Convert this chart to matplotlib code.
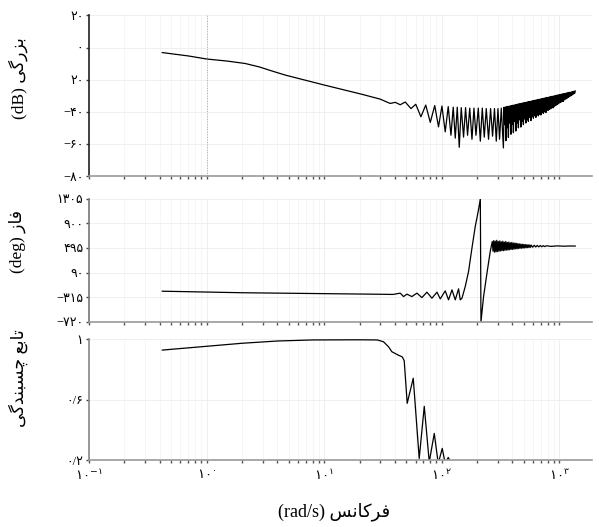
import matplotlib
matplotlib.use("Agg")
import matplotlib.pyplot as plt
from matplotlib.ticker import FixedLocator, LogLocator, NullFormatter

plt.rcParams['font.family'] = ['Liberation Serif', 'DejaVu Sans']
plt.rcParams['mathtext.fontset'] = 'dejavusans'

# --- magnitude (dB) ---
mag_freq = [0.42, 0.7, 1.0, 1.5, 2.13, 2.8, 3.5, 4.66, 10, 21, 30.0, 36.5, 40.3, 44.4, 49.0,
            54.8, 60.2, 66.6, 73.2, 80.0, 87.3, 94.0, 100.5, 107.2, 113.7, 119.9, 125.4,
            130.5, 135.7, 141.1, 146.7, 153.5, 159.7, 166.0, 173.3, 181.0, 188.2, 195.7,
            204.8, 213.2, 221.5, 230.3, 239.5, 250.5, 260.6, 271.0, 281.3, 291.4, 301.2,
            310.8, 321.4,
            335.0, 339.1, 343.3, 347.5, 351.8, 356.1, 360.5, 365.0, 369.5, 374.0, 378.6,
            383.3, 388.0, 392.8, 397.6, 402.5, 407.5, 412.5, 417.6, 422.7, 427.9, 433.2,
            438.5, 443.9, 449.4, 454.9, 460.5, 466.2, 471.9, 477.7, 483.6, 489.6, 495.6,
            501.7, 507.9, 514.2, 520.5, 526.9, 533.4, 540.0, 546.6, 553.4, 560.2, 567.1,
            574.1, 581.1, 588.3, 595.5, 602.9, 610.3, 617.8, 625.4, 633.1, 640.9, 648.8,
            656.8, 664.9, 673.1, 681.4, 689.8, 698.3, 706.9, 715.6, 724.4, 733.3, 742.3,
            751.5, 760.7, 770.1, 779.6, 789.2, 798.9, 808.7, 818.7, 828.8, 839.0, 849.3,
            859.8, 870.4, 881.1, 892.0, 902.9, 914.1, 925.3, 936.7, 948.2, 959.9, 971.7,
            983.7, 995.8, 1008.1, 1020.5, 1033.1, 1045.8, 1058.7, 1071.7, 1084.9, 1098.3,
            1111.8, 1125.5, 1139.4, 1153.4, 1167.6, 1182.0, 1196.6, 1211.3, 1226.2, 1241.3,
            1256.6, 1272.1, 1287.8, 1303.6, 1319.7, 1335.9, 1352.4, 1369.0]
mag_db = [-3.1, -5.2, -7.1, -8.4, -9.9, -12.0, -14.3, -17.1, -23.3, -29.1, -32.1, -34.8,
          -34.1, -35.6, -33.9, -38.0, -35.3, -43.1, -35.8, -46.6, -36.1, -49.4, -36.4,
          -52.5, -36.75, -54.6, -37.1, -56.4, -37.1, -62.1, -37.4, -55.8, -37.4, -54.6,
          -37.7, -57.1, -37.7, -54.6, -37.7, -58.3, -37.7, -55.8, -38.0, -57.1, -38.0,
          -55.2, -38.0, -58.3, -38.0, -57.1, -37.7,
          -62.5, -37.2, -48, -37.0, -58, -36.8, -50, -36.6, -56, -36.5, -47, -36.3, -54,
          -36.1, -48, -35.9, -53, -35.8, -46, -35.6, -52, -35.4, -47, -35.2, -50, -35.0,
          -45, -34.9, -49.5, -34.7, -46, -34.5, -48, -34.3, -44.5, -34.2, -47, -34.0,
          -45, -33.8, -46, -33.6, -43.5, -33.5, -45.5, -33.3, -43, -33.1, -44, -32.9,
          -42.5, -32.7, -43.5, -32.6, -42, -32.4, -42.5, -32.2, -41.5, -32.0, -42, -31.9,
          -40.5, -31.7, -41, -31.5, -40, -31.3, -40.5, -31.1, -39, -31.0, -39, -30.8,
          -38.5, -30.6, -38, -30.4, -37.5, -30.3, -37.5, -30.1, -36.5, -29.9, -36, -29.7,
          -35.5, -29.5, -35, -29.4, -34.5, -29.2, -34, -29.0, -33.5, -28.8, -33.5, -28.7,
          -32.5, -28.5, -32, -28.3, -31.5, -28.1, -31, -27.9, -30.5, -27.8, -30, -27.6,
          -29.5, -27.4, -29, -27.2, -28.5, -27.0]

# --- phase (deg) ---
ph_freq = [0.42, 2, 10, 30, 38.6, 44.4, 47.4, 50.6, 55.8, 61.6, 67.9, 74.9, 82.6, 91.2, 97.3,
           107.2, 114.4, 122.3, 130.5, 139.2, 143.9, 148.8, 158.7, 169.3, 181.0, 193.1,
           206.0, 213.2, 215.9, 227.2, 242.8, 259.0,
           269.4, 273.4, 277.4, 281.5, 285.7, 290.0, 294.3, 298.6, 303.1, 307.5, 312.1,
           316.7, 321.4, 326.2, 331.0, 335.9, 340.9, 345.9, 351.1, 356.3, 361.5, 366.9,
           372.3, 377.8, 383.4, 389.1, 394.9, 400.7, 406.7, 412.7, 418.8, 425.0, 431.3,
           437.7, 444.2, 450.8, 457.4, 464.2, 471.1, 478.1, 485.1, 492.3, 499.6, 507.0,
           514.5, 522.1, 529.8, 537.7, 545.6, 553.7, 561.9, 570.2, 578.7,
           595.6, 613.4, 631.7, 650.5, 669.9, 689.9, 710.5, 731.7, 753.5, 776.0, 850, 960,
           1100, 1250, 1368]
ph_deg = [-215, -240, -255, -265, -268, -247, -303, -263, -303, -247, -320, -231, -330, -231,
          -341, -209, -357, -193, -357, -176, -357, -330, -138, 108, 494, 849, 1124, 1300,
          -720, -303, 81, 438,
          600, 440, 615, 425, 605, 430, 620, 435, 600, 440, 610, 445, 595, 450, 605, 450,
          590, 455, 600, 460, 585, 460, 590, 465, 580, 470, 585, 470, 575, 475, 575, 480,
          570, 480, 565, 485, 562, 488, 558, 490, 555, 492, 552, 495, 550, 497, 548, 500,
          545, 502, 543, 505, 540,
          507, 538, 510, 536, 512, 534, 514, 532, 516, 530, 520, 528, 523, 527, 525]

# --- coherence ---
coh_freq = [0.42, 1.0, 2.0, 4.0, 8.0, 20, 28.3, 32.0, 35.3, 37.7, 42.7, 46.2, 48.0, 50.9,
            57.3, 64.4, 71.1, 78.4, 86.5, 93.5, 101.1, 107.2, 113.7, 119]
coh = [0.93, 0.955, 0.975, 0.99, 0.997, 0.998, 0.997, 0.985, 0.952, 0.919, 0.897, 0.885,
       0.86, 0.578, 0.744, 0.213, 0.558, 0.19, 0.379, 0.18, 0.28, 0.18, 0.22, 0.19]

mag_ticks = [20, 0, -20, -40, -60, -80]
mag_labels = ['۲۰', '۰', '۲۰', '−۴۰', '−۶۰', '−۸۰']
ph_ticks = [1305, 900, 495, 90, -315, -720]
ph_labels = ['۱۳۰۵', '۹۰۰', '۴۹۵', '۹۰', '−۳۱۵', '−۷۲۰']
coh_ticks = [1, 0.6, 0.2]
coh_labels = ['۱', '۰/۶', '۰/۲']
x_ticks = [0.1, 1, 10, 100, 1000]
x_labels = [r'$۱۰^{-۱}$', r'$۱۰^{۰}$', r'$۱۰^{۱}$', r'$۱۰^{۲}$', r'$۱۰^{۳}$']

# Persian labels written in visual order with presentation forms (no shaping in mpl)
lbl_mag = '(dB) ' + '\uFBFD\uFB94\uFEAD\uFEB0\uFE91'
lbl_ph = '(deg) ' + '\uFEAF\uFE8E\uFED3'
lbl_coh = '\uFBFD\uFB94\uFEAA\uFEE8\uFE92\uFEB4\uFB7C' + ' ' + '\uFECA\uFE91\uFE8E\uFE97'
lbl_x = '(rad/s) ' + '\uFEB2\uFEE7\uFE8E\uFB90\uFEAE\uFED3'

fig = plt.figure(figsize=(5.99, 5.27), dpi=100)
left, width = 89 / 599, 503 / 599
ax1 = fig.add_axes([left, 0.666, width, 0.3046])
ax2 = fig.add_axes([left, 0.389, width, 0.2343])
ax3 = fig.add_axes([left, 0.1262, width, 0.2296])

ax1.plot(mag_freq, mag_db, color='black', lw=0.9)
ax2.plot(ph_freq, ph_deg, color='black', lw=0.9)
ax3.plot(coh_freq, coh, color='black', lw=0.9)
ax1.axvline(1, color='#aaaaaa', lw=0.7, ls=':')

ax1.set_ylim(-80, 20)
ax2.set_ylim(-720, 1305)
ax3.set_ylim(0.2, 1.0)

setup = [(ax1, mag_ticks, mag_labels, lbl_mag, (-0.121, 0.61), '#222222'),
         (ax2, ph_ticks, ph_labels, lbl_ph, (-0.125, 0.65), '#777777'),
         (ax3, coh_ticks, coh_labels, lbl_coh, (-0.121, 0.68), '#888888')]
for ax, ticks, labels, ylab, lpos, lcol in setup:
    ax.set_xscale('log')
    ax.set_xlim(0.1, 1900)
    ax.spines['top'].set_visible(False)
    ax.spines['right'].set_visible(False)
    ax.spines['left'].set_color(lcol)
    ax.spines['bottom'].set_color('#9a9a9a')
    ax.spines['left'].set_linewidth(1.2)
    ax.spines['bottom'].set_linewidth(1.2)
    ax.set_yticks(ticks)
    ax.set_yticklabels(labels, fontsize=9)
    ax.xaxis.set_major_locator(FixedLocator(x_ticks))
    ax.xaxis.set_minor_locator(LogLocator(base=10, subs=range(2, 10), numticks=20))
    ax.xaxis.set_minor_formatter(NullFormatter())
    ax.tick_params(axis='y', length=2, width=1, color='#444444', pad=2)
    ax.tick_params(axis='x', which='both', length=2, width=1, color='#555555')
    ax.grid(True, which='major', color='#ededed', lw=0.6)
    ax.grid(True, which='minor', axis='x', color='#f2f2f2', lw=0.5)
    ax.set_axisbelow(True)
    ax.set_ylabel(ylab, fontsize=12.5)
    ax.yaxis.set_label_coords(*lpos)

for ax in (ax1, ax2):
    ax.set_xticklabels([])
ax3.set_xticklabels(x_labels, fontsize=9.5)

fig.text(334 / 599, 1 - 512 / 527, lbl_x, ha='center', va='center', fontsize=13)

fig.savefig('out.png', dpi=100)
